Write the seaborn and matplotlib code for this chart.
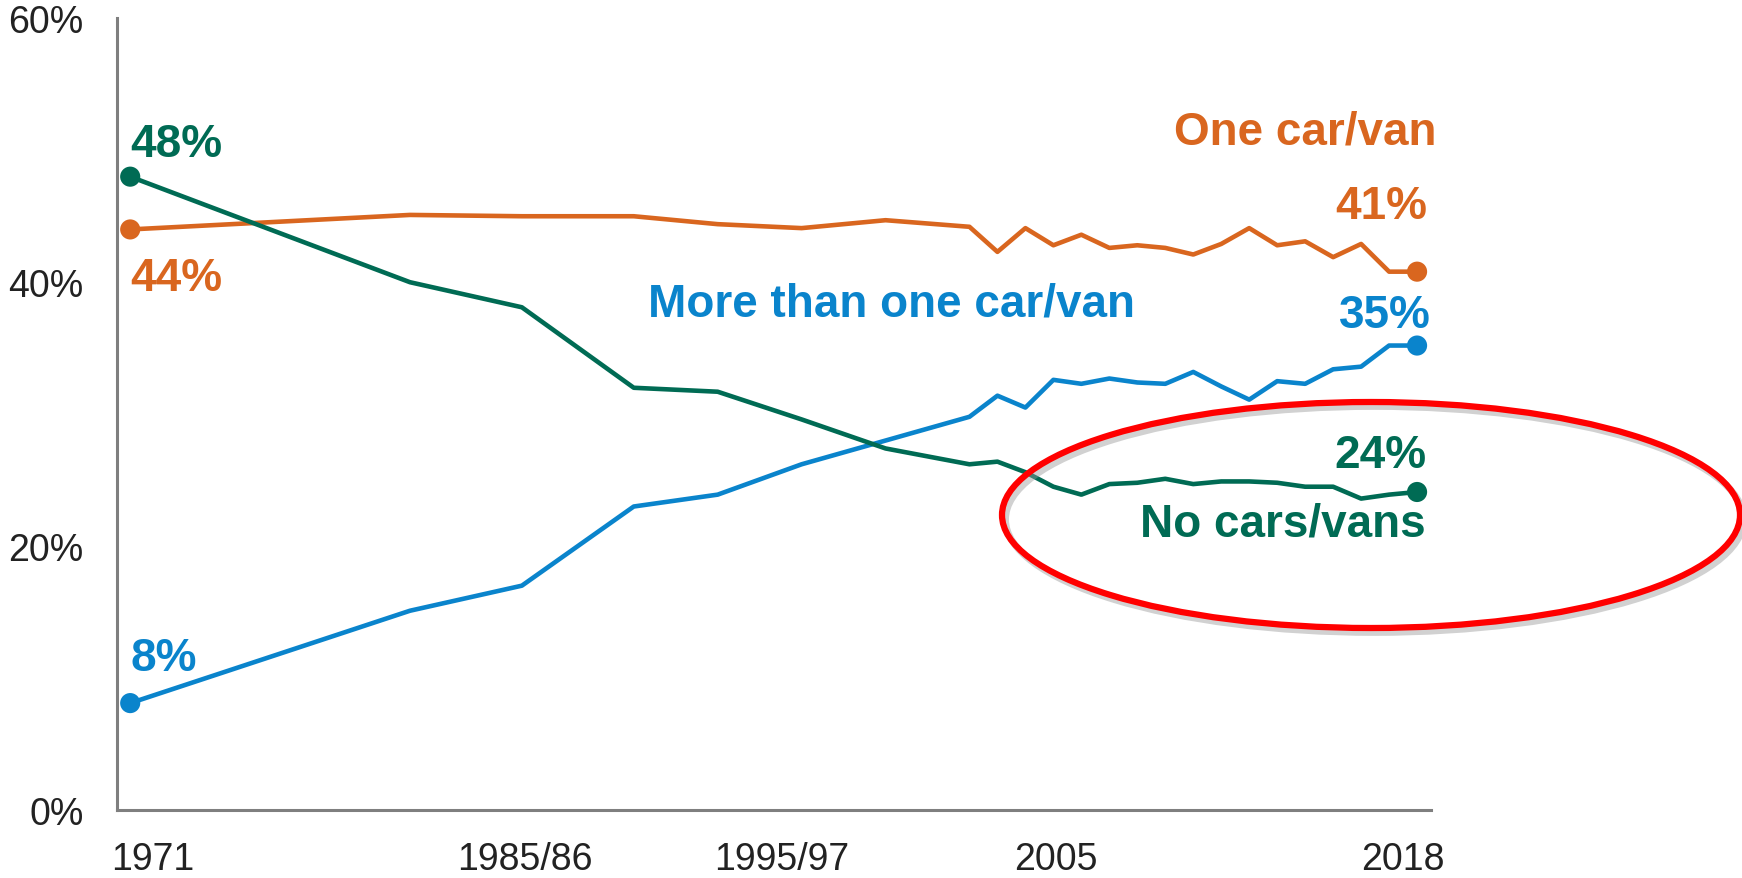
import numpy as np
import matplotlib
matplotlib.use("Agg")
import matplotlib.pyplot as plt
from matplotlib import font_manager
from matplotlib.patches import Ellipse
import pandas as pd
import seaborn as sns

# survey periods and where they sit on the time axis
periods = ["1971", "1981", "1985/86", "1989/91", "1992/94", "1995/97", "1998/2000",
           "2002", "2003", "2004", "2005", "2006", "2007", "2008", "2009", "2010",
           "2011", "2012", "2013", "2014", "2015", "2016", "2017", "2018"]
year_pos = [1972, 1982, 1986, 1990, 1993, 1996, 1999,
            2002, 2003, 2004, 2005, 2006, 2007, 2008, 2009, 2010,
            2011, 2012, 2013, 2014, 2015, 2016, 2017, 2018]

one_car = [44.0, 45.1, 45.0, 45.0, 44.4, 44.1, 44.7,
           44.2, 42.3, 44.1, 42.8, 43.6, 42.6, 42.8, 42.6, 42.1,
           42.9, 44.1, 42.8, 43.1, 41.9, 42.9, 40.8, 40.8]
more_than_one = [8.1, 15.1, 17.0, 23.0, 23.9, 26.2, 28.0,
                 29.8, 31.4, 30.5, 32.6, 32.3, 32.7, 32.4, 32.3, 33.2,
                 32.1, 31.1, 32.5, 32.3, 33.4, 33.6, 35.2, 35.2]
no_car = [48.0, 40.0, 38.1, 32.0, 31.7, 29.6, 27.4,
          26.2, 26.4, 25.6, 24.5, 23.9, 24.7, 24.8, 25.1, 24.7,
          24.9, 24.9, 24.8, 24.5, 24.5, 23.6, 23.9, 24.1]

xtick_labels = ["1971", "1985/86", "1995/97", "2005", "2018"]
xtick_pos = [1972.8, 1986.1, 1995.3, 2005.1, 2017.5]
ytick_vals = [0, 20, 40, 60]

colors = {"One car/van": "#D9661F",
          "More than one car/van": "#0A84CC",
          "No cars/vans": "#006B54"}

df = pd.DataFrame({
    "period": periods * 3,
    "year": year_pos * 3,
    "share": one_car + more_than_one + no_car,
    "group": ["One car/van"] * len(periods) + ["More than one car/van"] * len(periods)
             + ["No cars/vans"] * len(periods),
})

sns.set_theme(style="white")
names = {f.name for f in font_manager.fontManager.ttflist}
if "Liberation Sans Narrow" in names:
    tick_family, tick_size = "Liberation Sans Narrow", 31
else:
    tick_family, tick_size = "Liberation Sans", 27
plt.rcParams["font.family"] = ["Liberation Sans", "DejaVu Sans"]

fig = plt.figure(figsize=(17.42, 8.79), dpi=100)
ax = fig.add_axes([0.0672, 0.0774, 0.8215 - 0.0672, 0.978 - 0.0774])

sns.lineplot(data=df, x="year", y="share", hue="group", palette=colors,
             linewidth=3.3, legend=False, ax=ax, sort=False)

ends = df.groupby("group").apply(lambda d: d.iloc[[0, -1]]).reset_index(drop=True)
sns.scatterplot(data=ends, x="year", y="share", hue="group", palette=colors,
                s=210, edgecolor="none", legend=False, ax=ax, zorder=5, clip_on=False)

ax.set_xlim(1971.53, 2018.5)
ax.set_ylim(0, 60)
ax.set_xticks(xtick_pos)
ax.set_xticklabels(xtick_labels)
ax.set_yticks(ytick_vals)
ax.set_yticklabels([f"{v}%" for v in ytick_vals])
ax.tick_params(axis="both", length=0, labelsize=tick_size, labelcolor="#222222")
ax.tick_params(axis="x", pad=22)
ax.tick_params(axis="y", pad=24)
for lab in ax.get_xticklabels() + ax.get_yticklabels():
    lab.set_family(tick_family)
ax.set_xlabel("")
ax.set_ylabel("")
for side in ["top", "right"]:
    ax.spines[side].set_visible(False)
for side in ["left", "bottom"]:
    ax.spines[side].set_color("#7f7f7f")
    ax.spines[side].set_linewidth(2.2)

bold = dict(fontsize=33, fontweight="bold", va="center")
o, b, g = colors["One car/van"], colors["More than one car/van"], colors["No cars/vans"]
ax.text(1972, 50.5, f"{no_car[0]:.0f}%", color=g, ha="left", **bold)
ax.text(1972, 40.3, f"{one_car[0]:.0f}%", color=o, ha="left", **bold)
ax.text(1972, 11.5, f"{more_than_one[0]:.0f}%", color=b, ha="left", **bold)
ax.text(2018.7, 51.4, "One car/van", color=o, ha="right", **bold)
ax.text(2018.35, 45.8, f"{one_car[-1]:.0f}%", color=o, ha="right", **bold)
ax.text(1990.5, 38.4, "More than one car/van", color=b, ha="left", **bold)
ax.text(2018.5, 37.5, f"{more_than_one[-1]:.0f}%", color=b, ha="right", **bold)
ax.text(2018.35, 26.9, f"{no_car[-1]:.0f}%", color=g, ha="right", **bold)
ax.text(2018.3, 21.7, "No cars/vans", color=g, ha="right", **bold)

# red highlight ring with a soft shadow
cx, cy, w, h = 1371 / 1742, 1 - 516 / 879, 738 / 1742, 226 / 879
shadow = Ellipse((cx + 0.002, cy - 0.005), w, h, transform=fig.transFigure,
                 fill=False, edgecolor="#999999", linewidth=5, alpha=0.45)
ring = Ellipse((cx, cy), w, h, transform=fig.transFigure,
               fill=False, edgecolor="#FF0000", linewidth=4.5)
fig.patches.extend([shadow, ring])

fig.savefig("out.png", dpi=100)
